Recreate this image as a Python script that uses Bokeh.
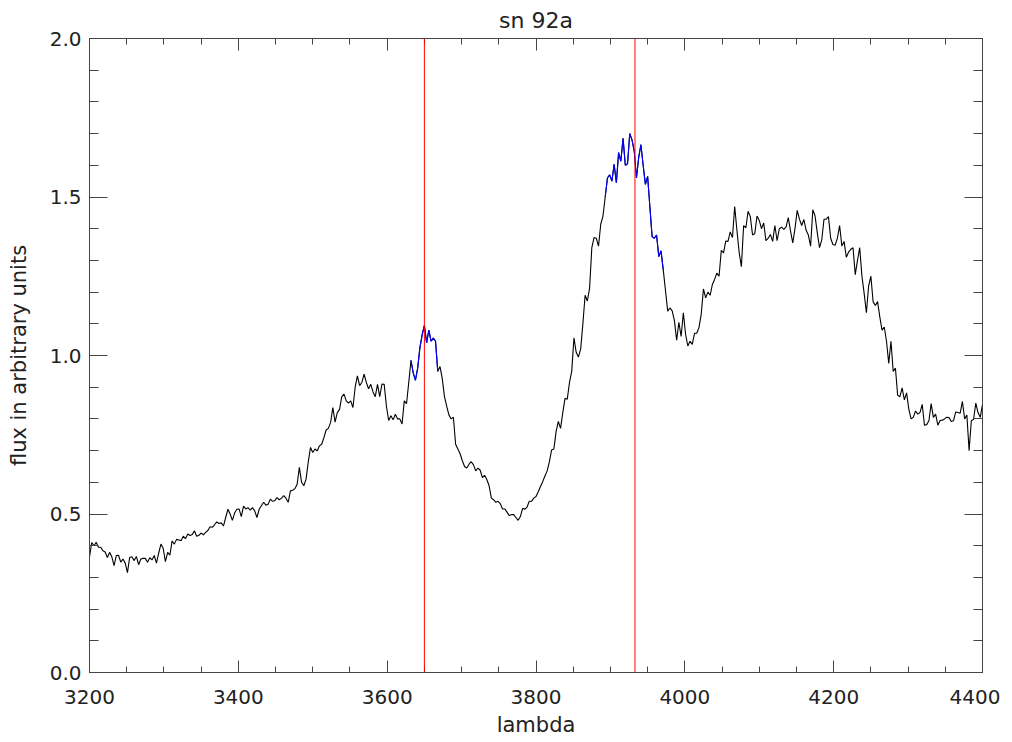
import numpy as np
from bokeh.plotting import figure
from bokeh.models import LinearAxis, FixedTicker, Span, Range1d, PrintfTickFormatter
from bokeh.embed import file_html
from bokeh.resources import INLINE

# ---- data (wavelength sampled every 3 A, one list per wavelength segment) ----
step = 3.0
start_a = 3200
flux_a = [
    0.365, 0.410, 0.400, 0.411, 0.395, 0.395, 0.384, 0.380, 0.363, 0.379,
    0.365, 0.337, 0.369, 0.370, 0.348, 0.358, 0.345, 0.315, 0.363, 0.365,
    0.353, 0.366, 0.340, 0.358, 0.360, 0.360, 0.348, 0.362, 0.355, 0.369,
    0.345, 0.377, 0.405, 0.392, 0.350, 0.379, 0.370, 0.415, 0.405, 0.420,
    0.418, 0.416, 0.430, 0.422, 0.437, 0.432, 0.435, 0.447, 0.430, 0.433,
    0.440, 0.434, 0.442, 0.448, 0.460, 0.458, 0.466, 0.475, 0.470, 0.472,
    0.462, 0.489, 0.515, 0.500, 0.480, 0.503, 0.515, 0.516, 0.492, 0.525,
    0.516, 0.520, 0.512, 0.520]
start_b = 3422
flux_b = [
    0.510, 0.489, 0.515, 0.526, 0.537, 0.528, 0.531, 0.547, 0.540, 0.542,
    0.552, 0.545, 0.550, 0.558, 0.550, 0.537, 0.573, 0.575, 0.580, 0.594,
    0.647, 0.600, 0.589, 0.610, 0.665, 0.710, 0.694, 0.705, 0.699, 0.715,
    0.720, 0.741, 0.765, 0.770, 0.789, 0.836, 0.790, 0.820, 0.830, 0.870,
    0.878, 0.857, 0.850, 0.857, 0.836, 0.900, 0.936, 0.905, 0.915, 0.941,
    0.915, 0.895, 0.909, 0.885, 0.870, 0.909, 0.870, 0.910, 0.909, 0.840,
    0.795, 0.810, 0.797, 0.815, 0.800, 0.800, 0.784, 0.857, 0.848, 0.915]
start_c = 3632
flux_c = [
    0.985, 0.945, 0.922, 0.960, 1.025, 1.065, 1.095, 1.040, 1.080, 1.045,
    1.055, 1.045, 0.950, 0.965, 0.928, 0.870, 0.840, 0.812, 0.800, 0.805,
    0.720, 0.705, 0.690, 0.668, 0.650, 0.645, 0.657, 0.665, 0.655, 0.636,
    0.645, 0.638, 0.615, 0.622, 0.608, 0.589, 0.550, 0.545, 0.537, 0.540,
    0.533, 0.516, 0.516, 0.506, 0.495, 0.498, 0.498, 0.489, 0.480, 0.492,
    0.518, 0.515, 0.522, 0.540, 0.540, 0.550, 0.555, 0.570, 0.587, 0.602,
    0.620, 0.636, 0.665, 0.702, 0.705, 0.760, 0.792, 0.770, 0.820, 0.865,
    0.862, 0.915, 0.950, 1.056]
start_d = 3854
flux_d = [
    1.010, 0.995, 1.020, 1.100, 1.190, 1.172, 1.212, 1.340, 1.372, 1.370,
    1.345, 1.414, 1.440, 1.500, 1.560, 1.570, 1.550, 1.603, 1.545, 1.640,
    1.613, 1.685, 1.600, 1.605, 1.700, 1.680, 1.645, 1.560, 1.625, 1.665,
    1.600, 1.540, 1.565, 1.470, 1.375, 1.370, 1.380, 1.312, 1.330, 1.270,
    1.205, 1.140, 1.150, 1.141, 1.110, 1.048, 1.105, 1.060, 1.135, 1.067,
    1.030, 1.045, 1.035, 1.070, 1.070, 1.088, 1.130, 1.210, 1.182, 1.200,
    1.190, 1.224, 1.240, 1.260, 1.250]
start_e = 4049
flux_e = [
    1.332, 1.324, 1.361, 1.360, 1.390, 1.372, 1.470, 1.395, 1.325, 1.280,
    1.410, 1.403, 1.455, 1.438, 1.380, 1.385, 1.440, 1.426, 1.400, 1.418,
    1.362, 1.370, 1.382, 1.360, 1.410, 1.362, 1.400, 1.405, 1.398, 1.405,
    1.435, 1.393, 1.355, 1.400, 1.458, 1.430, 1.410, 1.429, 1.395, 1.380,
    1.345, 1.460, 1.440, 1.387, 1.340, 1.365, 1.430, 1.430, 1.438, 1.370,
    1.350, 1.348, 1.370, 1.410, 1.345, 1.360, 1.310, 1.326, 1.335, 1.340,
    1.255, 1.300, 1.340, 1.250, 1.195, 1.135, 1.220, 1.250]
start_f = 4253
flux_f = [
    1.170, 1.158, 1.170, 1.122, 1.080, 1.090, 1.045, 0.975, 1.045, 0.950,
    0.960, 0.875, 0.870, 0.898, 0.860, 0.882, 0.831, 0.800, 0.805, 0.825,
    0.815, 0.820, 0.846, 0.780, 0.782, 0.794, 0.848, 0.805, 0.815, 0.780,
    0.795, 0.796, 0.800, 0.805, 0.804, 0.792, 0.794, 0.822, 0.820, 0.818,
    0.855, 0.800, 0.812, 0.700, 0.795, 0.798, 0.850, 0.820, 0.805, 0.846]

segments = [(start_a, flux_a), (start_b, flux_b), (start_c, flux_c),
            (start_d, flux_d), (start_e, flux_e), (start_f, flux_f)]

# fitted line windows drawn in blue, and marked line positions (red)
blue_windows = [(3630, 3668), (3893, 3972)]
marker_lines = [3650, 3933]

title_text = "sn 92a"
x_label = "lambda"
y_label = "flux in arbitrary units"
x_limits = (3200, 4400)
y_limits = (0.0, 2.0)
x_major_ticks = [3200, 3400, 3600, 3800, 4000, 4200, 4400]
y_major_ticks = [0.0, 0.5, 1.0, 1.5, 2.0]
x_minor_ticks = [float(v) for v in np.arange(3200, 4401, 50)]
y_minor_ticks = [round(float(v), 1) for v in np.arange(0.0, 2.01, 0.1)]

wave = np.concatenate([s + step * np.arange(len(f)) for s, f in segments])
flux = np.concatenate([np.array(f) for s, f in segments])

FONT = "DejaVu Sans"
TXT = "#222222"
AX = "#444444"
X_MAJ, X_MIN = 12, 6
Y_MAJ, Y_MIN = 18, 9

p = figure(width=1000, height=740, output_backend="svg", toolbar_location=None,
           x_range=Range1d(*x_limits), y_range=Range1d(*y_limits),
           x_axis_type=None, y_axis_type=None,
           min_border_left=89, min_border_right=18, min_border_top=38, min_border_bottom=68)
p.outline_line_color = None
p.xgrid.visible = False
p.ygrid.visible = False
p.background_fill_color = "white"
p.border_fill_color = "white"

p.title.text = title_text
p.title.align = "center"
p.title.text_font = FONT
p.title.text_font_size = "22px"
p.title.text_font_style = "normal"
p.title.text_color = TXT
p.title.standoff = 11


def style_axis(ax, maj, mnr, labels=True):
    ax.axis_line_color = AX
    ax.axis_line_width = 1
    ax.major_tick_line_color = AX
    ax.minor_tick_line_color = AX
    ax.major_tick_in = maj
    ax.major_tick_out = 0
    ax.minor_tick_in = mnr
    ax.minor_tick_out = 0
    if labels:
        ax.major_label_text_font = FONT
        ax.major_label_text_font_size = "20px"
        ax.major_label_text_color = TXT
        ax.axis_label_text_font = FONT
        ax.axis_label_text_font_style = "normal"
        ax.axis_label_text_color = TXT
    else:
        ax.major_label_text_font_size = "0px"
        ax.major_label_standoff = 0


def x_ticker():
    return FixedTicker(ticks=x_major_ticks, minor_ticks=x_minor_ticks)


def y_ticker():
    return FixedTicker(ticks=y_major_ticks, minor_ticks=y_minor_ticks)


xb = LinearAxis(ticker=x_ticker())
style_axis(xb, X_MAJ, X_MIN)
xb.axis_label = x_label
xb.axis_label_text_font_size = "21px"
xb.major_label_standoff = 17
xb.axis_label_standoff = 6
p.add_layout(xb, "below")

yl = LinearAxis(ticker=y_ticker(), formatter=PrintfTickFormatter(format="%.1f"))
style_axis(yl, Y_MAJ, Y_MIN)
yl.axis_label = y_label
yl.axis_label_text_font_size = "21px"
yl.major_label_standoff = 8
yl.axis_label_standoff = 16
p.add_layout(yl, "left")

# mirrored inward ticks on the top and right edges (labels suppressed)
xt = LinearAxis(ticker=x_ticker())
style_axis(xt, X_MAJ, X_MIN, labels=False)
p.add_layout(xt, "above")
yr = LinearAxis(ticker=y_ticker())
style_axis(yr, Y_MAJ, Y_MIN, labels=False)
p.add_layout(yr, "right")

p.line(wave, flux, line_color="black", line_width=1.1)
for lo, hi in blue_windows:
    m = (wave >= lo) & (wave <= hi)
    p.line(wave[m], flux[m], line_color="#0000ff", line_width=1.1)

for loc in marker_lines:
    p.add_layout(Span(location=loc, dimension="height", line_color="#ff0000", line_width=1))

open("out.html", "w").write(file_html(p, INLINE))
